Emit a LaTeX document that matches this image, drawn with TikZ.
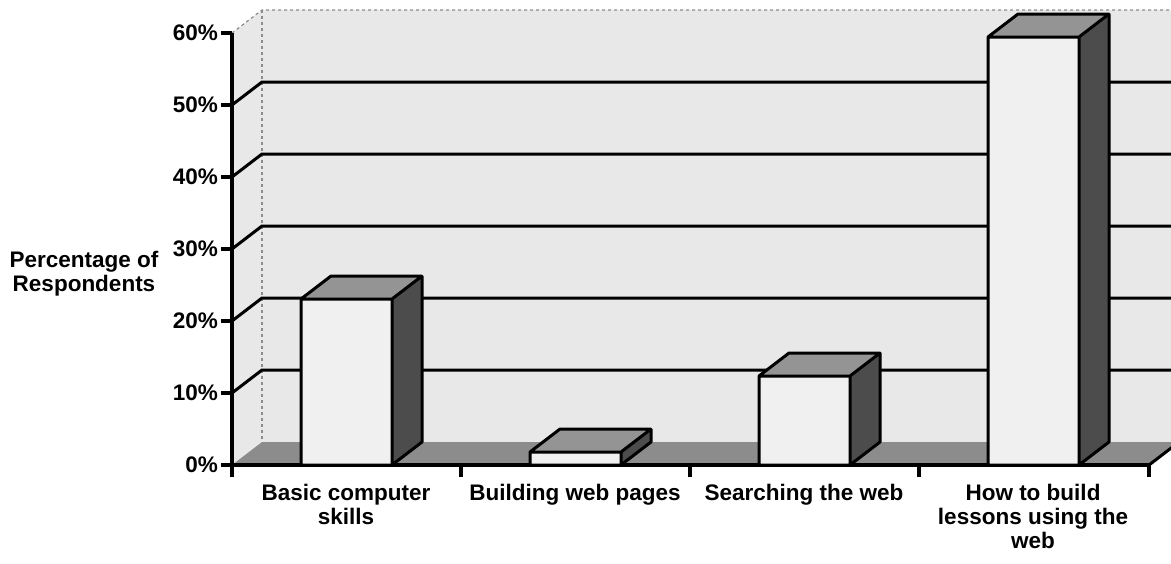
\documentclass[tikz,border=0pt]{standalone}
\usepackage{fontspec}
\setmainfont{Liberation Sans}
\begin{document}
\begin{tikzpicture}[x=1pt,y=-1pt,
  lbl/.style={font=\bfseries\fontsize{22.5}{24}\selectfont, inner sep=0pt},
  wall/.style={fill=black!9},
  floorf/.style={fill=black!45},
  grid/.style={draw=black, line width=3pt},
  axis/.style={draw=black, line width=3.2pt},
  edge/.style={draw=black!45, line width=1.2pt, dashed},
  barfront/.style={fill=black!6},
  bartop/.style={fill=black!42},
  barside/.style={fill=black!70},
  barline/.style={draw=black, line width=3pt, line join=round}]
\useasboundingbox (0,0) rectangle (1171,563);
\clip (0,0) rectangle (1171,563);
% walls
\fill[wall] (232,33) -- (262,10) -- (1171,10) -- (1171,442) -- (262,442) -- (232,465) -- cycle;
\draw[edge] (232,33) -- (262,10) -- (1171,10);
\draw[edge] (262,10) -- (262,442);
% floor
\fill[floorf] (232,465) -- (1149,465) -- (1179,442) -- (262,442) -- cycle;
\draw[black, line width=3pt] (1149,465) -- (1179,442);
% gridlines
\foreach \y in {105,177,249,321,393} {
  \draw[grid] (232,\y) -- (262,\y-23) -- (1171,\y-23);
}
% axes
\draw[axis] (232,33) -- (232,465) -- (1149,465);
\foreach \y in {33,105,177,249,321,393,465} { \draw[axis] (221,\y) -- (232,\y); }
\foreach \x in {232,461,690,919,1149} { \draw[axis] (\x,465) -- (\x,477); }
% bars
\newcommand\cbar[2]{%
  \fill[barfront] (#1,465) -- (#1+91,465) -- (#1+91,#2) -- (#1,#2) -- cycle;
  \fill[bartop] (#1,#2) -- (#1+91,#2) -- (#1+121,#2-23) -- (#1+30,#2-23) -- cycle;
  \fill[barside] (#1+91,465) -- (#1+121,442) -- (#1+121,#2-23) -- (#1+91,#2) -- cycle;
  \draw[barline] (#1,465) -- (#1,#2) -- (#1+30,#2-23) -- (#1+121,#2-23) -- (#1+121,442) -- (#1+91,465) -- cycle (#1,#2) -- (#1+91,#2) -- (#1+121,#2-23) (#1+91,#2) -- (#1+91,465);
}
\cbar{301}{299}
\cbar{530}{452}
\cbar{759}{376}
\cbar{988}{37}
% y labels
\node[lbl, anchor=east] (y60) at (218,33) {60\%};
\node[lbl, anchor=east] (y50) at (218,105) {50\%};
\node[lbl, anchor=east] (y40) at (218,177) {40\%};
\node[lbl, anchor=east] (y30) at (218,249) {30\%};
\node[lbl, anchor=east] (y20) at (218,321) {20\%};
\node[lbl, anchor=east] (y10) at (218,393) {10\%};
\node[lbl, anchor=east] (y0) at (218,465) {0\%};
\node[lbl, align=center] (ytitle) at (84,274) {Percentage of\\Respondents};
% category labels
\node[lbl, align=center, anchor=north] (c1) at (346,484) {Basic computer\\skills};
\node[lbl, align=center, anchor=north] (c2) at (575,484) {Building web pages};
\node[lbl, align=center, anchor=north] (c3) at (804,484) {Searching the web};
\node[lbl, align=center, anchor=north] (c4) at (1033,484) {How to build\\lessons using the\\web};
\end{tikzpicture}
\end{document}
